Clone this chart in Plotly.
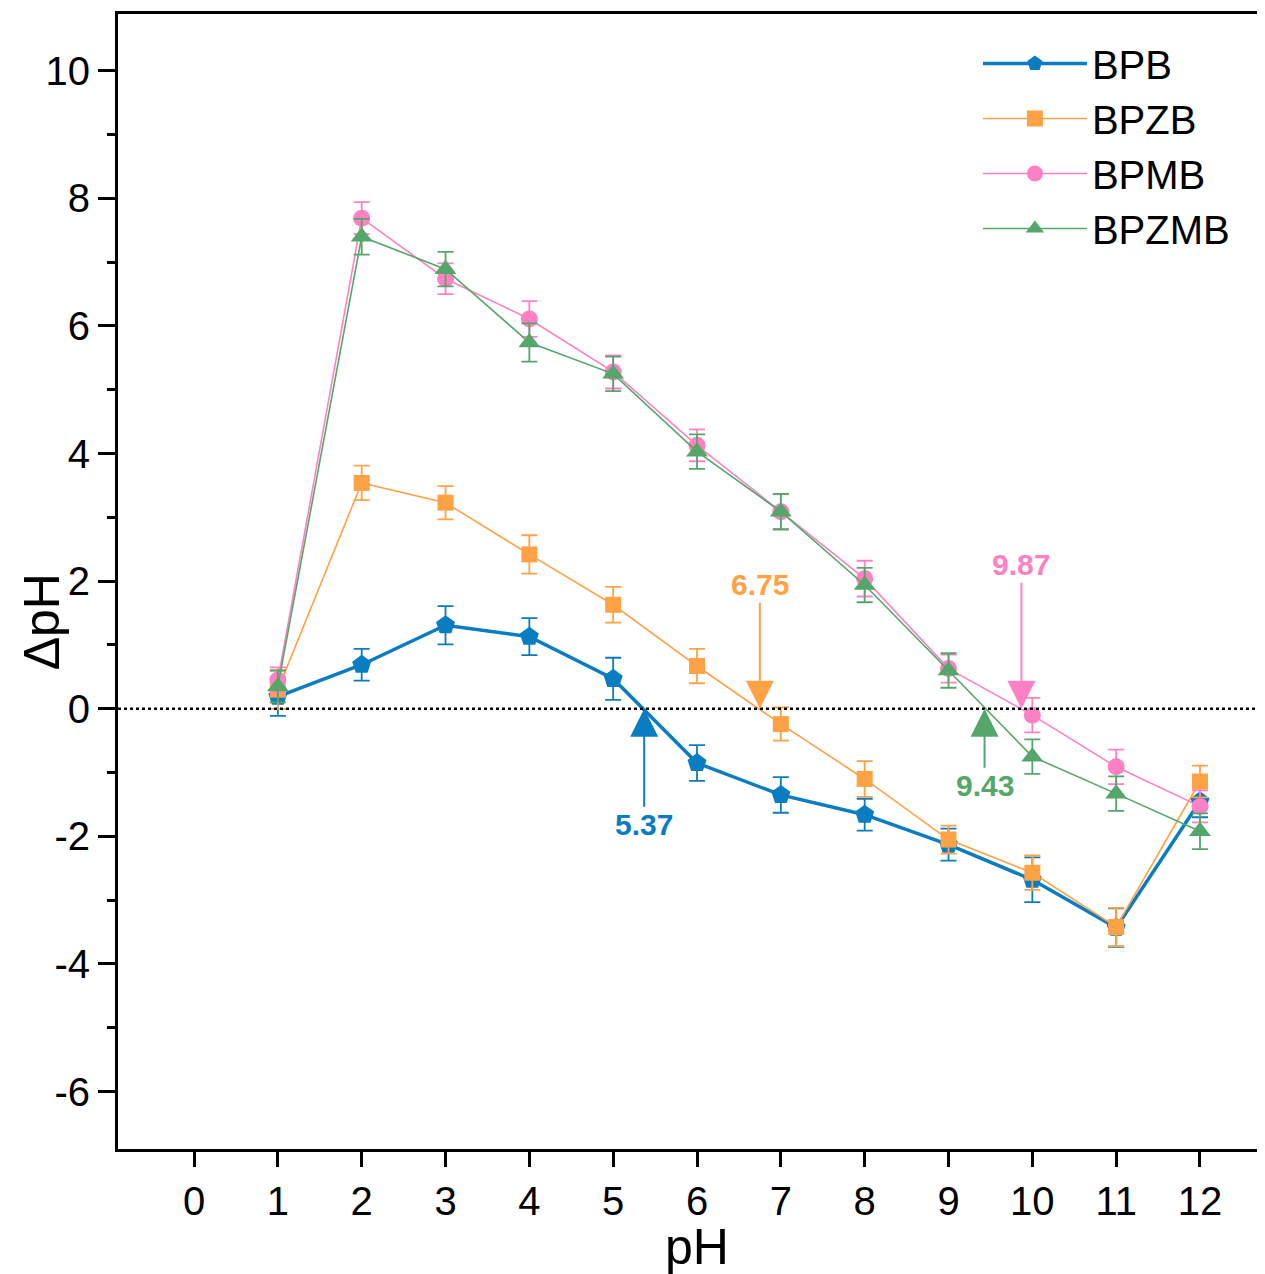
import plotly.graph_objects as go

ph = [1, 2, 3, 4, 5, 6, 7, 8, 9, 10, 11, 12]

bpb = [0.19, 0.69, 1.31, 1.13, 0.47, -0.85, -1.35, -1.66, -2.13, -2.68, -3.43, -1.45]
bpb_err = [0.30, 0.25, 0.30, 0.29, 0.33, 0.28, 0.28, 0.25, 0.25, 0.35, 0.30, 0.25]

bpzb = [0.30, 3.54, 3.23, 2.42, 1.63, 0.67, -0.24, -1.10, -2.05, -2.57, -3.42, -1.14]
bpzb_err = [0.30, 0.27, 0.26, 0.30, 0.28, 0.27, 0.26, 0.28, 0.22, 0.27, 0.30, 0.25]

bpmb = [0.45, 7.69, 6.74, 6.11, 5.28, 4.13, 3.09, 2.04, 0.63, -0.10, -0.91, -1.53]
bpmb_err = [0.20, 0.25, 0.24, 0.28, 0.26, 0.25, 0.27, 0.28, 0.22, 0.27, 0.27, 0.25]

bpzmb = [0.35, 7.40, 6.89, 5.74, 5.25, 4.03, 3.09, 1.94, 0.60, -0.75, -1.33, -1.92]
bpzmb_err = [0.25, 0.28, 0.27, 0.30, 0.27, 0.27, 0.28, 0.27, 0.27, 0.27, 0.27, 0.28]

series_names = ["BPB", "BPZB", "BPMB", "BPZMB"]
pzc_values = [5.37, 6.75, 9.87, 9.43]
pzc_labels = ["5.37", "6.75", "9.87", "9.43"]

x_ticks = list(range(0, 13))
y_ticks = [-6, -4, -2, 0, 2, 4, 6, 8, 10]
y_ticklabels = ["-6", "-4", "-2", "0", "2", "4", "6", "8", "10"]

colors = ["#0A7CC1", "#FFA245", "#FF80C4", "#55A66A"]
symbols = ["pentagon", "square", "circle", "triangle-up"]
msizes = [20, 16, 17, 19]
lwidths = [3.5, 1.6, 1.6, 1.6]

FONT = "Arial, Liberation Sans, sans-serif"

fig = go.Figure()
for name, ys, errs, c, s, ms, lw in zip(series_names, [bpb, bpzb, bpmb, bpzmb],
                                         [bpb_err, bpzb_err, bpmb_err, bpzmb_err],
                                         colors, symbols, msizes, lwidths):
    fig.add_trace(go.Scatter(
        x=ph, y=ys, name=name, mode="lines+markers",
        line=dict(color=c, width=lw),
        marker=dict(symbol=s, size=ms, color=c, line=dict(width=0)),
        error_y=dict(type="data", array=errs, visible=True, color=c, thickness=1.8, width=8),
    ))

# zero line
fig.add_shape(type="line", xref="paper", x0=0, x1=1, yref="y", y0=0, y1=0,
              line=dict(color="black", width=2.5, dash="dot"), layer="above")

# PZC arrows
ay_offsets = [116, -124, -144, 77]
for v, lab, c, ay in zip(pzc_values, pzc_labels, colors, ay_offsets):
    fig.add_annotation(x=v, y=0, xref="x", yref="y", text="<b>%s</b>" % lab,
                       showarrow=True, ax=0, ay=ay, arrowhead=2, arrowsize=2.8,
                       arrowwidth=2, arrowcolor=c,
                       font=dict(family=FONT, size=30, color=c))

# axis titles
fig.add_annotation(text="pH", xref="x", yref="paper", x=6, y=-0.0863,
                   showarrow=False, font=dict(family=FONT, size=50, color="black"),
                   xanchor="center", yanchor="middle")
fig.add_annotation(text="ΔpH", xref="paper", yref="paper", x=-0.0658, y=0.464,
                   showarrow=False, textangle=-90,
                   font=dict(family=FONT, size=50, color="black"),
                   xanchor="center", yanchor="middle")

fig.update_layout(
    width=1265, height=1266,
    margin=dict(l=110, r=0, t=6, b=125, autoexpand=False),
    paper_bgcolor="white", plot_bgcolor="white",
    font=dict(family=FONT, color="black"),
    showlegend=True,
    legend=dict(x=0.7445, y=0.985, xanchor="left", yanchor="top",
                font=dict(family=FONT, size=40, color="black"),
                bgcolor="rgba(0,0,0,0)", itemwidth=104, tracegroupgap=0),
    xaxis=dict(range=[-0.907, 12.871], tickmode="array", tickvals=x_ticks,
               ticks="outside", ticklen=15, tickwidth=3, tickcolor="black",
               showline=True, linewidth=3, linecolor="black", mirror=True,
               showgrid=False, zeroline=False, automargin=False,
               tickfont=dict(family=FONT, size=40)),
    yaxis=dict(range=[-6.90, 10.89], tickmode="array", tickvals=y_ticks, ticktext=y_ticklabels,
               ticks="outside", ticklen=17, tickwidth=3, tickcolor="black",
               minor=dict(ticks="outside", ticklen=8, tickwidth=3, tickcolor="black", dtick=1, showgrid=False),
               showline=True, linewidth=3, linecolor="black", mirror=False,
               showgrid=False, zeroline=False, automargin=False,
               tickfont=dict(family=FONT, size=40)),
)

fig.write_html("out.html")
